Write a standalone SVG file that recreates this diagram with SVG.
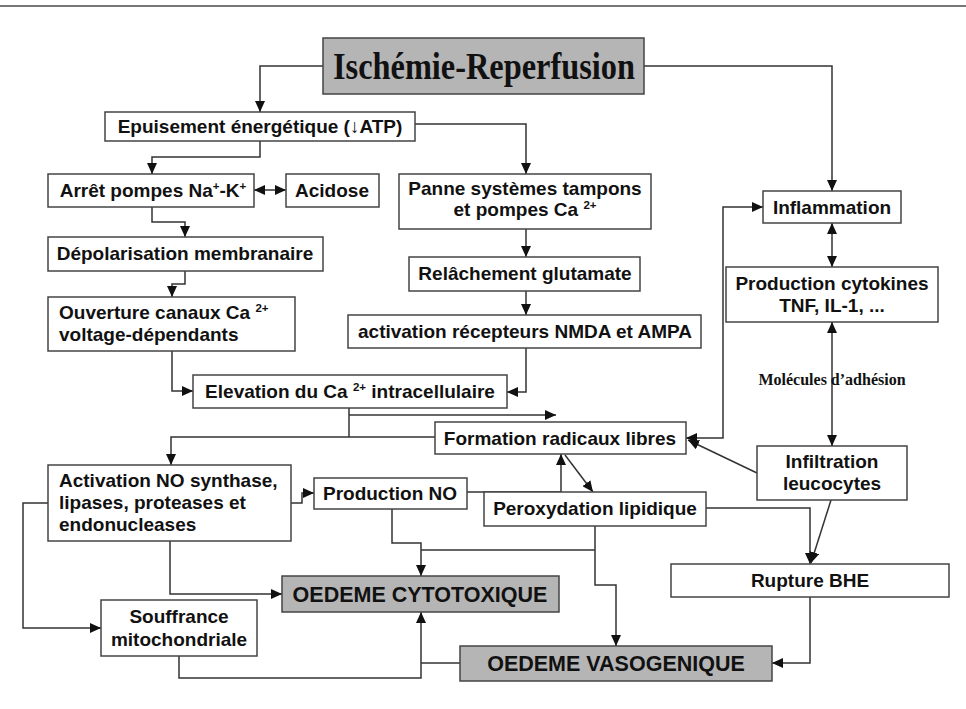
<svg xmlns="http://www.w3.org/2000/svg" width="966" height="709" viewBox="0 0 966 709">
<defs>
<marker id="ah" markerUnits="userSpaceOnUse" markerWidth="12" markerHeight="10" refX="11" refY="5" orient="auto-start-reverse"><path d="M0,0 L11,5 L0,10 z" fill="#111"/></marker>
<style>
.b{fill:#fff;stroke:#444;stroke-width:1.5}
.g{fill:#b5b5b5;stroke:#444;stroke-width:1.5}
.t{font-family:"Liberation Sans",Arial,sans-serif;font-weight:bold;font-size:19px;fill:#111}
.c{text-anchor:middle}
.big{font-size:21.5px}
.s{font-size:11.5px}
.ser{font-family:"Liberation Serif","Times New Roman",serif;font-weight:bold;fill:#111}
#conn path{fill:none;stroke:#333;stroke-width:1.5}
</style>
</defs>
<rect width="966" height="709" fill="#fff"/>
<line x1="0" y1="6" x2="966" y2="6" stroke="#777" stroke-width="2"/>

<g id="conn">
<path d="M323,66 H260 V112" marker-end="url(#ah)"/>
<path d="M644,66 H832 V191" marker-end="url(#ah)"/>
<path d="M260,141 V157 H152 V174" marker-end="url(#ah)"/>
<path d="M415,124 H526 V174" marker-end="url(#ah)"/>
<path d="M254,190 H286" marker-start="url(#ah)" marker-end="url(#ah)"/>
<path d="M152,207 V222 H185 V237" marker-end="url(#ah)"/>
<path d="M185,271 V284 H172 V297" marker-end="url(#ah)"/>
<path d="M172,351 V391 H193" marker-end="url(#ah)"/>
<path d="M526,229 V257" marker-end="url(#ah)"/>
<path d="M526,291 V315" marker-end="url(#ah)"/>
<path d="M526,348 V392 H507" marker-end="url(#ah)"/>
<path d="M349,408 V437"/>
<path d="M435,437 H171 V465" marker-end="url(#ah)"/>
<path d="M349,415 H556" marker-end="url(#ah)"/>
<path d="M686,438 H723 V207 H763" marker-start="url(#ah)" marker-end="url(#ah)"/>
<path d="M832,223 V267" marker-start="url(#ah)" marker-end="url(#ah)"/>
<path d="M832,322 V446" marker-start="url(#ah)" marker-end="url(#ah)"/>
<path d="M757,473 L688,440" marker-end="url(#ah)"/>
<path d="M291,503 H302 V493 H314" marker-end="url(#ah)"/>
<path d="M48,503 H23 V628 H101" marker-end="url(#ah)"/>
<path d="M170,541 V594 H282" marker-end="url(#ah)"/>
<path d="M467,492 H561 V454" marker-end="url(#ah)"/>
<path d="M565,455 L593,492" marker-end="url(#ah)"/>
<path d="M392,509 V543 H421 V576" marker-end="url(#ah)"/>
<path d="M595,526 V585 H616 V646" marker-end="url(#ah)"/>
<path d="M595,550 H421"/>
<path d="M706,508 H810 V564" marker-end="url(#ah)"/>
<path d="M831,500 L811,563" marker-end="url(#ah)"/>
<path d="M810,597 V663 H772" marker-end="url(#ah)"/>
<path d="M460,663 H421"/>
<path d="M179,656 V678 H421 V612" marker-end="url(#ah)"/>
</g>

<g id="title"><rect class="g" x="323" y="38" width="321" height="56"/><text class="ser" x="484" y="79" font-size="38" text-anchor="middle" textLength="302" lengthAdjust="spacingAndGlyphs">Ischémie-Reperfusion</text></g>
<g id="epuisement"><rect class="b" x="105" y="112" width="310" height="29"/><text class="t c" x="260" y="133">Epuisement énergétique (↓ATP)</text></g>
<g id="arret"><rect class="b" x="48" y="174" width="206" height="33"/><text class="t c" x="153" y="197">Arrêt pompes Na<tspan class="s" dy="-7">+</tspan><tspan dy="7">-K</tspan><tspan class="s" dy="-7">+</tspan></text></g>
<g id="acidose"><rect class="b" x="286" y="174" width="93" height="33"/><text class="t c" x="332" y="197">Acidose</text></g>
<g id="panne"><rect class="b" x="399" y="174" width="252" height="55"/><text class="t c" x="525" y="195">Panne systèmes tampons</text><text class="t c" x="525" y="216">et pompes Ca <tspan class="s" dy="-7">2+</tspan></text></g>
<g id="depolarisation"><rect class="b" x="48" y="237" width="275" height="34"/><text class="t c" x="185" y="260">Dépolarisation membranaire</text></g>
<g id="relachement"><rect class="b" x="409" y="257" width="231" height="34"/><text class="t c" x="525" y="280">Relâchement glutamate</text></g>
<g id="ouverture"><rect class="b" x="48" y="297" width="247" height="54"/><text class="t" x="59" y="319">Ouverture canaux Ca <tspan class="s" dy="-7">2+</tspan></text><text class="t" x="59" y="341">voltage-dépendants</text></g>
<g id="activation-recepteurs"><rect class="b" x="348" y="315" width="353" height="33"/><text class="t c" x="525" y="338">activation récepteurs NMDA et AMPA</text></g>
<g id="elevation"><rect class="b" x="193" y="375" width="314" height="33"/><text class="t c" x="350" y="398">Elevation du Ca <tspan class="s" dy="-7">2+</tspan><tspan dy="7"> intracellulaire</tspan></text></g>
<g id="formation"><rect class="b" x="435" y="422" width="251" height="32"/><text class="t c" x="560" y="445">Formation radicaux libres</text></g>
<g id="activation-no"><rect class="b" x="48" y="465" width="243" height="76"/><text class="t" x="59" y="487">Activation NO synthase,</text><text class="t" x="59" y="509">lipases, proteases et</text><text class="t" x="59" y="531">endonucleases</text></g>
<g id="production-no"><rect class="b" x="314" y="478" width="153" height="31"/><text class="t c" x="390" y="500">Production NO</text></g>
<g id="peroxydation"><rect class="b" x="484" y="492" width="222" height="34"/><text class="t c" x="595" y="515">Peroxydation lipidique</text></g>
<g id="inflammation"><rect class="b" x="763" y="191" width="138" height="32"/><text class="t c" x="832" y="214">Inflammation</text></g>
<g id="cytokines"><rect class="b" x="726" y="267" width="212" height="55"/><text class="t c" x="832" y="290">Production cytokines</text><text class="t c" x="832" y="312">TNF, IL-1, ...</text></g>
<g id="label-adhesion"><text class="ser" x="832" y="385" font-size="16" text-anchor="middle">Molécules d’adhésion</text></g>
<g id="infiltration"><rect class="b" x="757" y="446" width="150" height="54"/><text class="t c" x="832" y="468">Infiltration</text><text class="t c" x="832" y="490">leucocytes</text></g>
<g id="rupture"><rect class="b" x="671" y="564" width="278" height="33"/><text class="t c" x="810" y="587">Rupture BHE</text></g>
<g id="cytotoxique"><rect class="g" x="282" y="576" width="277" height="36"/><text class="t c big" x="420" y="602">OEDEME CYTOTOXIQUE</text></g>
<g id="souffrance"><rect class="b" x="101" y="600" width="156" height="56"/><text class="t c" x="179" y="623">Souffrance</text><text class="t c" x="179" y="646">mitochondriale</text></g>
<g id="vasogenique"><rect class="g" x="460" y="646" width="312" height="35"/><text class="t c big" x="616" y="671">OEDEME VASOGENIQUE</text></g>
</svg>
